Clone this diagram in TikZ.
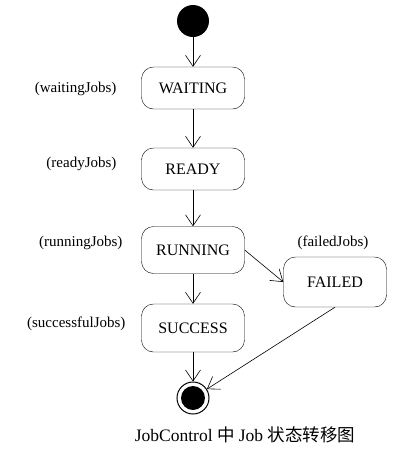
\documentclass[tikz,border=0pt]{standalone}
\usepackage{fontspec}
\setmainfont{Liberation Serif}
\newfontfamily\cjk{Noto Sans CJK SC}
\usetikzlibrary{arrows.meta,positioning}
\tikzset{
  state/.style={draw,rounded corners=12pt,minimum width=103pt,minimum height=42pt,font=\fontsize{16}{18}\selectfont},
  joblist/.style={anchor=east,font=\fontsize{15}{17}\selectfont},
  trans/.style={-{Straight Barb[length=11pt,width=15pt]},line width=0.6pt}
}
\begin{document}
\begin{tikzpicture}[x=1pt,y=-1pt]
\useasboundingbox (0,0) rectangle (410,451);
\pgfmathsetmacro{\cx}{193}
% start and end
\node[circle,fill,minimum size=32pt,inner sep=0pt](start) at (\cx,21){};
\node[circle,draw,line width=1pt,minimum size=32pt,inner sep=0pt](stop) at (\cx,398){};
\fill (stop) circle (12pt);
% states
\node[state](waiting) at (\cx,88){WAITING};
\node[state](ready) at (\cx,169){READY};
\node[state,minimum height=47pt](running) at (\cx,250){RUNNING};
\node[state,minimum height=48pt](success) at (\cx,328){SUCCESS};
\node[state,minimum height=50pt](failed) at (335,282){FAILED};
% job lists
\node[joblist](wjobs) at (120,89){(waitingJobs)};
\node[joblist](rjobs) at (120,164){(readyJobs)};
\node[joblist](ujobs) at (126,243){(runningJobs)};
\node[joblist](sjobs) at (129,324){(successfulJobs)};
\node[font=\fontsize{15}{17}\selectfont](fjobs) at (333,243){(failedJobs)};
% transitions
\draw[trans](start)--(waiting);
\draw[trans](waiting)--(ready);
\draw[trans](ready)--(running);
\draw[trans](running)--(success);
\draw[trans](success)--(stop);
\draw[trans](running.east)--(failed.west);
\draw[trans](failed.south)--(stop);
\node[font=\fontsize{17.5}{20}\selectfont](caption) at (245,435){JobControl {\cjk 中} Job {\cjk 状态转移图}};
\end{tikzpicture}
\end{document}
